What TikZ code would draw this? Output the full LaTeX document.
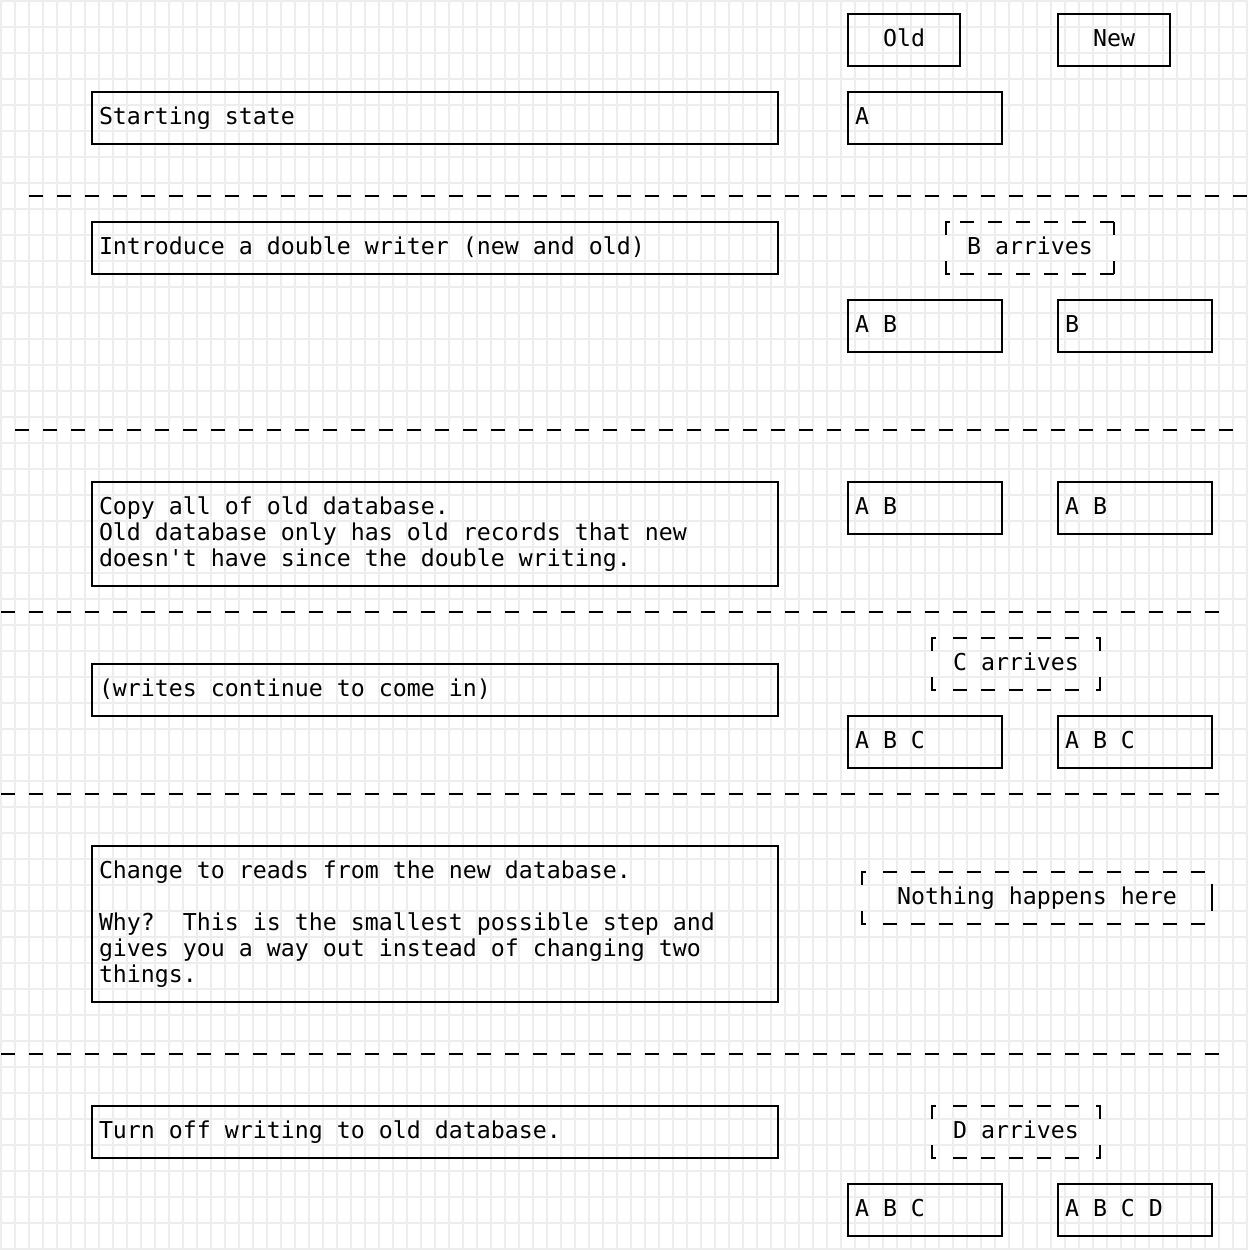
\documentclass[tikz,border=0pt]{standalone}
\usepackage{fontspec}
\setmonofont{DejaVu Sans Mono}
\frenchspacing
\newcommand\Tx[4]{\node[txt] (#1) at ({1+14*#2},{20.5+26*#3}) {#4};}
\newcommand\Bx[5]{\draw[box] ({8+14*#2},{14+26*#3}) coordinate (#1) rectangle ({8+14*#4},{14+26*#5});}
\begin{document}
\begin{tikzpicture}[x=1pt,y=-1pt,
  gridline/.style={draw=black!7, line width=1.6pt},
  box/.style={draw=black, line width=2pt},
  sepline/.style={draw=black, line width=2pt, dash pattern=on 14pt off 14pt},
  corner/.style={draw=black, line width=2pt},
  txt/.style={anchor=base west, inner sep=0pt, outer sep=0pt, font=\ttfamily\fontsize{23.25}{26}\selectfont, text=black}]
\useasboundingbox (0,0) rectangle (1248,1250);
\fill[white] (0,0) rectangle (1248,1250);
% background grid
\foreach \k in {0,...,89} \draw[gridline] ({1+14*\k},0) -- ({1+14*\k},1250);
\foreach \r in {0,...,48} \draw[gridline] (0,{1+26*\r}) -- (1248,{1+26*\r});

% header
\Bx{oldhdr}{60}{0}{68}{2}
\Bx{newhdr}{75}{0}{83}{2}
\Tx{told}{63}{1}{Old}
\Tx{tnew}{78}{1}{New}

% step 1
\Bx{b1}{6}{3}{55}{5}
\Tx{t1}{7}{4}{Starting state}
\Bx{o1}{60}{3}{71}{5}
\Tx{to1}{61}{4}{A}

\draw[sepline] (29,196) -- (1247,196);

% step 2
\Bx{b2}{6}{8}{55}{10}
\Tx{t2}{7}{9}{Introduce a double writer (new and old)}
\draw[corner] (946,235) -- (946,222) -- (950,222);
\draw[sepline] (960,222) -- (1114,222);
\draw[corner] (1114,222) -- (1114,235);
\draw[corner] (946,261) -- (946,274) -- (950,274);
\draw[sepline] (960,274) -- (1114,274);
\draw[corner] (1114,274) -- (1114,261);
\Tx{ta2}{69}{9}{B arrives}
\Bx{o2}{60}{11}{71}{13}
\Tx{to2}{61}{12}{A B}
\Bx{n2}{75}{11}{86}{13}
\Tx{tn2}{76}{12}{B}

\draw[sepline] (15,430) -- (1233,430);

% step 3
\Bx{b3}{6}{18}{55}{22}
\Tx{t3a}{7}{19}{Copy all of old database.}
\Tx{t3b}{7}{20}{Old database only has old records that new}
\Tx{t3c}{7}{21}{doesn\textquotesingle t have since the double writing.}
\Bx{o3}{60}{18}{71}{20}
\Tx{to3}{61}{19}{A B}
\Bx{n3}{75}{18}{86}{20}
\Tx{tn3}{76}{19}{A B}

\draw[sepline] (1,612) -- (1219,612);

% step 4
\draw[corner] (932,651) -- (932,638) -- (936,638);
\draw[sepline] (953,638) -- (1079,638);
\draw[corner] (1096,638) -- (1100,638) -- (1100,651);
\draw[corner] (932,677) -- (932,690) -- (936,690);
\draw[sepline] (953,690) -- (1079,690);
\draw[corner] (1096,690) -- (1100,690) -- (1100,677);
\Tx{ta4}{68}{25}{C arrives}
\Bx{b4}{6}{25}{55}{27}
\Tx{t4}{7}{26}{(writes continue to come in)}
\Bx{o4}{60}{27}{71}{29}
\Tx{to4}{61}{28}{A B C}
\Bx{n4}{75}{27}{86}{29}
\Tx{tn4}{76}{28}{A B C}

\draw[sepline] (1,794) -- (1219,794);

% step 5
\Bx{b5}{6}{32}{55}{38}
\Tx{t5a}{7}{33}{Change to reads from the new database.}
\Tx{t5b}{7}{35}{Why?\ \ This is the smallest possible step and}
\Tx{t5c}{7}{36}{gives you a way out instead of changing two}
\Tx{t5d}{7}{37}{things.}
\draw[corner] (862,885) -- (862,872) -- (866,872);
\draw[sepline] (883,872) -- (1205,872);
\draw[corner] (862,911) -- (862,924) -- (866,924);
\draw[sepline] (883,924) -- (1205,924);
\draw[corner] (1212,884) -- (1212,911);
\Tx{ta5}{64}{34}{Nothing happens here}

\draw[sepline] (1,1054) -- (1219,1054);

% step 6
\Bx{b6}{6}{42}{55}{44}
\Tx{t6}{7}{43}{Turn off writing to old database.}
\draw[corner] (932,1119) -- (932,1106) -- (936,1106);
\draw[sepline] (953,1106) -- (1079,1106);
\draw[corner] (1096,1106) -- (1100,1106) -- (1100,1119);
\draw[corner] (932,1145) -- (932,1158) -- (936,1158);
\draw[sepline] (953,1158) -- (1079,1158);
\draw[corner] (1096,1158) -- (1100,1158) -- (1100,1145);
\Tx{ta6}{68}{43}{D arrives}
\Bx{o6}{60}{45}{71}{47}
\Tx{to6}{61}{46}{A B C}
\Bx{n6}{75}{45}{86}{47}
\Tx{tn6}{76}{46}{A B C D}
\end{tikzpicture}
\end{document}
